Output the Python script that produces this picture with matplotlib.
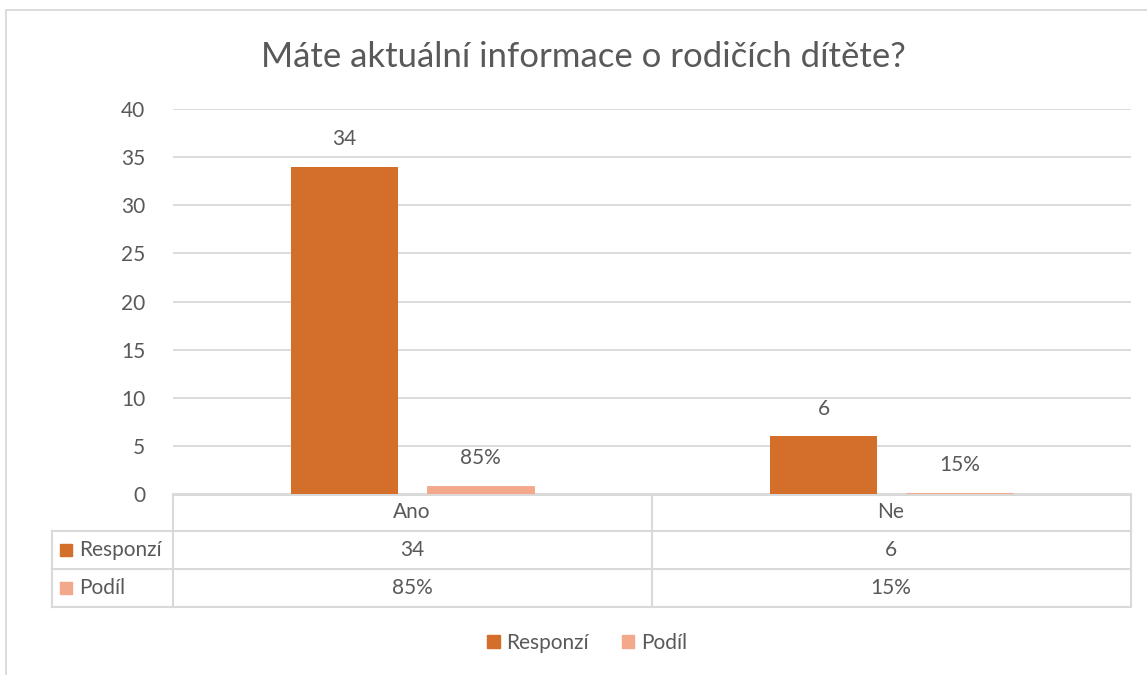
import matplotlib.pyplot as plt
from matplotlib.patches import Rectangle
from matplotlib.lines import Line2D

plt.rcParams['font.family'] = ['Lato', 'DejaVu Sans']

title = 'Máte aktuální informace o rodičích dítěte?'
categories = ['Ano', 'Ne']
series_names = ['Responzí', 'Podíl']
responzi = [34, 6]
podil = [0.85, 0.15]
responzi_labels = ['34', '6']
podil_labels = ['85%', '15%']
yticks = [0, 5, 10, 15, 20, 25, 30, 35, 40]

c_resp = '#D36F2A'
c_pod = '#F3A88B'
txt = '#595959'
grid = '#D9D9D9'
fs = 15

W, H = 1147, 675
fig = plt.figure(figsize=(W / 100, H / 100), dpi=100)

def fx(px):
    return px / W

def fy(py):
    return 1 - py / H

# chart frame
fig.add_artist(Rectangle((fx(6), fy(700)), fx(1160), fy(10) - fy(700), transform=fig.transFigure,
                         fill=False, edgecolor=grid, lw=1.3))

ax = fig.add_axes([fx(173), fy(494), fx(1131) - fx(173), fy(109) - fy(494)])
ax.patch.set_visible(False)
x = [0, 1]
bw = 0.223
off = 0.142
ax.bar([i - off for i in x], responzi, bw, color=c_resp, zorder=3)
ax.bar([i + off for i in x], podil, bw, color=c_pod, zorder=3, edgecolor=c_pod, lw=0.6)
for i in x:
    ax.text(i - off, responzi[i] + 1.8, responzi_labels[i], ha='center', va='bottom', fontsize=fs, color=txt)
    ax.text(i + off, podil[i] + 1.8, podil_labels[i], ha='center', va='bottom', fontsize=fs, color=txt)

ax.set_xlim(-0.5, 1.5)
ax.set_ylim(0, 40)
ax.set_yticks(yticks)
ax.set_yticklabels([str(t) for t in yticks], fontsize=fs, color=txt)
ax.tick_params(axis='y', length=0, pad=20)
ax.set_xticks([])
ax.yaxis.grid(True, color=grid, lw=1.3, zorder=0)
for s in ax.spines.values():
    s.set_visible(False)

fig.text(fx(583), fy(57), title, ha='center', va='center', fontsize=25, color=txt)

# data table
def hline(py, x0, x1, z=1):
    fig.add_artist(Line2D([fx(x0), fx(x1)], [fy(py), fy(py)], transform=fig.transFigure, color=grid, lw=1.5,
                          zorder=z))

def vline(px, y0, y1):
    fig.add_artist(Line2D([fx(px), fx(px)], [fy(y0), fy(y1)], transform=fig.transFigure, color=grid, lw=1.5))

hline(494.5, 173, 1131, z=-1)
hline(531, 52, 1131)
hline(569, 52, 1131)
hline(607, 52, 1131)
vline(52, 531, 607)
vline(173, 494, 607)
vline(652, 494, 607)
vline(1131, 494, 607)

col_centers = [412, 891]
rows_y = [512, 550, 588]
for i, c in enumerate(categories):
    fig.text(fx(col_centers[i]), fy(rows_y[0]), c, ha='center', va='center', fontsize=fs, color=txt)
    fig.text(fx(col_centers[i]), fy(rows_y[1]), responzi_labels[i], ha='center', va='center', fontsize=fs, color=txt)
    fig.text(fx(col_centers[i]), fy(rows_y[2]), podil_labels[i], ha='center', va='center', fontsize=fs, color=txt)
for name, col, ry in zip(series_names, [c_resp, c_pod], rows_y[1:]):
    fig.add_artist(Rectangle((fx(60), fy(ry + 6)), fx(12), fy(ry - 6) - fy(ry + 6), transform=fig.transFigure,
                             color=col))
    fig.text(fx(79), fy(ry), name, ha='left', va='center', fontsize=fs, color=txt)

# legend
handles = [Rectangle((0, 0), 1, 1, color=c_resp), Rectangle((0, 0), 1, 1, color=c_pod)]
fig.legend(handles, series_names, loc='center', bbox_to_anchor=(fx(587), fy(643)), ncol=2, frameon=False,
           fontsize=fs, handlelength=0.6, handleheight=0.6, handletextpad=0.3, columnspacing=1.6,
           labelcolor=txt)

fig.savefig('out.png', dpi=100)
